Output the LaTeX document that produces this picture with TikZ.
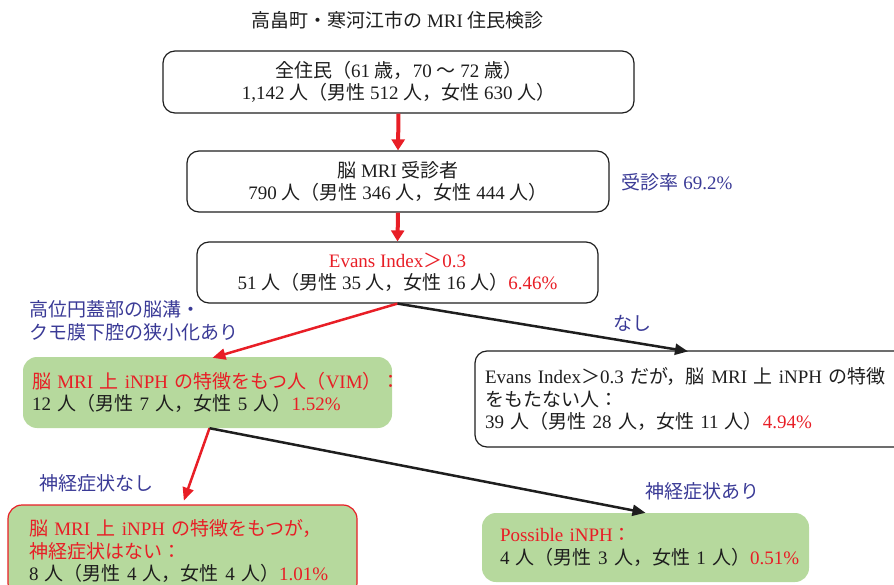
\documentclass[tikz,border=0pt]{standalone}
\usepackage{fontspec}
\setmainfont{Liberation Serif}
\newfontfamily\jpf{Noto Sans CJK JP}
\newcommand\J[1]{{\jpf #1}}
\newcommand\Ln[1]{\mbox{#1}}
\usetikzlibrary{arrows.meta,calc}
\definecolor{myred}{RGB}{232,30,38}
\definecolor{myblue}{RGB}{58,58,150}
\definecolor{mygreen}{RGB}{182,217,157}
\definecolor{ink}{RGB}{30,30,30}
\newcommand\R[1]{{\color{myred}#1}}
\begin{document}
\begin{tikzpicture}[x=1pt,y=-1pt,
  every node/.style={font=\fontsize{19}{22.5}\selectfont, text=ink},
  box/.style={draw=ink, line width=1.2pt, rounded corners=12pt, align=center, inner sep=0pt},
  gbox/.style={fill=mygreen, rounded corners=14pt, align=left, inner ysep=0pt},
  lbl/.style={text=myblue, inner sep=0pt},
  redthick/.style={draw=myred, line width=4pt, -{Triangle[length=11pt,width=13pt]}},
  reddiag/.style={draw=myred, line width=2.5pt, -{Triangle[length=13pt,width=11pt]}},
  blkdiag/.style={draw=ink, line width=2.5pt, -{Triangle[length=13pt,width=11pt]}}]
\useasboundingbox (0,0) rectangle (894,585);
\clip (0,0) rectangle (894,585);

\node (title) at (397.5,20) {\J{高畠町・寒河江市の} MRI \J{住民検診}};

\node[box, minimum width=471pt, minimum height=62pt] (b1) at (398.5,82)
  {\J{全住民（}61 \J{歳，}70 \J{～} 72 \J{歳）}\\1,142 \J{人（男性} 512 \J{人，女性} 630 \J{人）}};

\node[box, minimum width=422pt, minimum height=61pt] (b2) at (398,181.5)
  {\J{脳} MRI \J{受診者}\\790 \J{人（男性} 346 \J{人，女性} 444 \J{人）}};

\node[lbl] (rate) at (677,182) {\J{受診率} 69.2\%};

\node[box, minimum width=401pt, minimum height=61pt] (b3) at (397.5,272.5)
  {\R{Evans Index\J{＞}0.3}\\51 \J{人（男性} 35 \J{人，女性} 16 \J{人）}\R{6.46\%}};

\node[lbl, align=left, anchor=west] (lab1) at (29,321)
  {\J{高位円蓋部の脳溝・}\\\J{クモ膜下腔の狭小化あり}};
\node[lbl] (lab2) at (632,323) {\J{なし}};

\node[gbox, inner xsep=9pt, text width=351pt, minimum height=71pt] (vim) at (207.5,392.5)
  {\Ln{\R{\J{脳} MRI \J{上} iNPH \J{の特徴をもつ人（}VIM\J{）：}}}\\\Ln{12 \J{人（男性} 7 \J{人，女性} 5 \J{人）}\R{1.52\%}}};

\node[box, align=left, inner xsep=10pt, text width=480pt, minimum height=96pt] (rt) at (725,399)
  {\Ln{Evans Index\J{＞}0.3 \J{だが，脳} MRI \J{上} iNPH \J{の特徴}}\\\Ln{\J{をもたない人：}}\\\Ln{39 \J{人（男性} 28 \J{人，女性} 11 \J{人）}\R{4.94\%}}};

\node[lbl] (lab3) at (96,483) {\J{神経症状なし}};
\node[lbl] (lab4) at (702,491) {\J{神経症状あり}};

\node[gbox, draw=myred, line width=1.2pt, inner xsep=21pt, text width=307pt, minimum height=92pt] (bl) at (182.5,551)
  {\Ln{\R{\J{脳} MRI \J{上} iNPH \J{の特徴をもつが，}}}\\\Ln{\R{\J{神経症状はない：}}}\\\Ln{8 \J{人（男性} 4 \J{人，女性} 4 \J{人）}\R{1.01\%}}};

\node[gbox, inner xsep=18pt, text width=291pt, minimum height=69pt] (poss) at (645.5,547.5)
  {\Ln{\R{Possible iNPH\J{：}}}\\\Ln{4 \J{人（男性} 3 \J{人，女性} 1 \J{人）}\R{0.51\%}}};

\draw[redthick] (b1.south) -- (b2.north);
\draw[redthick] (b2.south) -- (b3.north);
\draw[reddiag] (b3.south) -- ([xshift=5pt,yshift=-1pt]vim.north);
\draw[blkdiag] (b3.south) -- ([xshift=-37pt,yshift=-1pt]rt.north);
\draw[reddiag, shorten >=4pt] ([xshift=2pt]vim.south) -- (bl.north);
\draw[blkdiag] ([xshift=2pt]vim.south) -- (poss.north);
\end{tikzpicture}
\end{document}
